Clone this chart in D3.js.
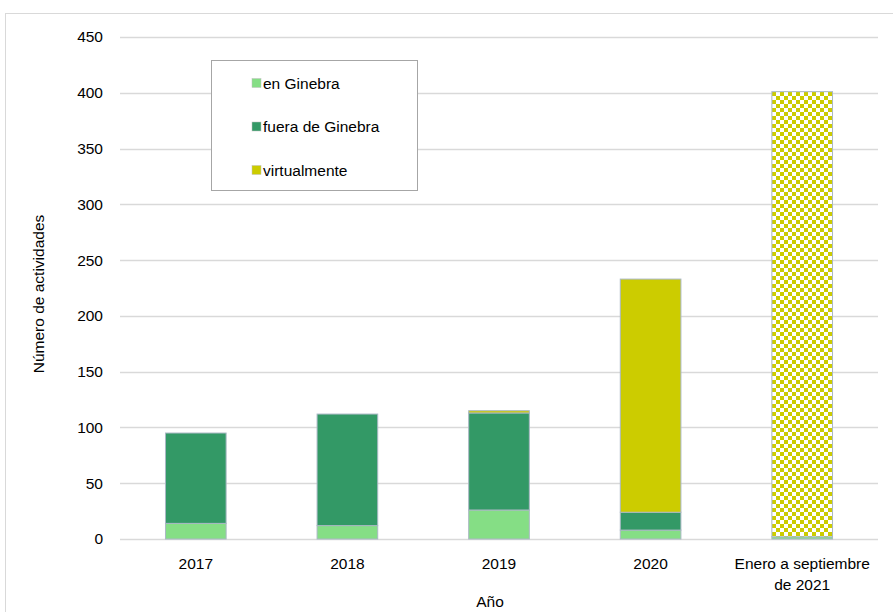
<!DOCTYPE html>
<html>
<head>
<meta charset="utf-8">
<script src="https://cdn.jsdelivr.net/npm/d3@7"></script>
<style>
  body { margin: 0; background: #fff; }
  svg { font-family: "Liberation Sans", Arial, sans-serif; }
</style>
</head>
<body>
<svg id="chart" width="893" height="612"></svg>
<script>
// Data
const years = ["2017", "2018", "2019", "2020", "Enero a septiembre|de 2021"];
const enGinebra = [14, 12, 26, 8, 2];
const fueraGinebra = [81, 100, 87, 16, 0];
const virtualmente = [0, 0, 2, 209, 399];
const seriesNames = ["en Ginebra", "fuera de Ginebra", "virtualmente"];
const yTicks = [0, 50, 100, 150, 200, 250, 300, 350, 400, 450];

const colors = ["#85de85", "#339966", "#cccc00"];
const fontSize = 15.5;

const svg = d3.select("#chart");
const margin = {left: 120, right: 15, top: 37, bottom: 73};

// outer frame
svg.append("rect")
    .attr("x", 5.5).attr("y", 13.5)
    .attr("width", 900).attr("height", 620)
    .attr("fill", "none").attr("stroke", "#d9d9d9");

// checker pattern for the 2021 bar
const defs = svg.append("defs");
const pat = defs.append("pattern")
    .attr("id", "checker")
    .attr("patternUnits", "userSpaceOnUse")
    .attr("width", 8).attr("height", 8);
pat.append("rect").attr("width", 8).attr("height", 8).attr("fill", "#fff");
pat.append("rect").attr("width", 4).attr("height", 4).attr("fill", colors[2]);
pat.append("rect").attr("x", 4).attr("y", 4).attr("width", 4).attr("height", 4).attr("fill", colors[2]);

const x = d3.scaleBand()
    .domain(years)
    .range([margin.left, 878])
    .paddingInner(0.6)
    .paddingOuter(0.3);

const y = d3.scaleLinear()
    .domain([0, 450])
    .range([539, 37]);

// grid lines
svg.append("g")
    .selectAll("line")
    .data(yTicks)
    .join("line")
    .attr("x1", margin.left).attr("x2", 878)
    .attr("y1", d => Math.round(y(d)) + 0.5)
    .attr("y2", d => Math.round(y(d)) + 0.5)
    .attr("stroke", "#d9d9d9")
    .attr("stroke-width", 1.5);

// y axis labels
const yAxis = d3.axisLeft(y).tickValues(yTicks).tickSize(0).tickPadding(0);
svg.append("g")
    .attr("transform", "translate(103,0)")
    .call(yAxis)
    .call(g => g.select(".domain").remove())
    .selectAll("text")
    .attr("font-size", fontSize)
    .attr("fill", "#000")
    .attr("font-family", "Liberation Sans, Arial, sans-serif");

// stacked bars
const table = years.map((yr, i) => ({
    year: yr,
    "en Ginebra": enGinebra[i],
    "fuera de Ginebra": fueraGinebra[i],
    "virtualmente": virtualmente[i]
}));
const stack = d3.stack().keys(seriesNames)(table);

stack.forEach((layer, si) => {
    svg.append("g")
        .selectAll("rect")
        .data(layer.filter(d => d[1] - d[0] > 0))
        .join("rect")
        .attr("x", d => x(d.data.year))
        .attr("width", x.bandwidth())
        .attr("y", d => y(d[1]))
        .attr("height", d => y(d[0]) - y(d[1]))
        .attr("fill", d => (si === 2 && d.data.year === years[4]) ? "url(#checker)" : colors[si])
        .attr("stroke", "#aab8c4")
        .attr("stroke-width", 1);
});

// x axis labels
const xLab = svg.append("g")
    .selectAll("text")
    .data(years)
    .join("text")
    .attr("x", d => x(d) + x.bandwidth() / 2)
    .attr("y", 569)
    .attr("text-anchor", "middle")
    .attr("font-size", fontSize)
    .attr("fill", "#000");
xLab.each(function(d) {
    const parts = d.split("|");
    parts.forEach((p, k) => {
        d3.select(this).append("tspan")
            .attr("x", x(d) + x.bandwidth() / 2)
            .attr("dy", k === 0 ? 0 : 21)
            .text(p);
    });
});

// axis titles
svg.append("text")
    .attr("x", 490).attr("y", 607)
    .attr("text-anchor", "middle")
    .attr("font-size", fontSize)
    .text("Año");

svg.append("text")
    .attr("transform", "translate(44,294) rotate(-90)")
    .attr("text-anchor", "middle")
    .attr("font-size", fontSize)
    .text("Número de actividades");

// legend
const legend = svg.append("g");
legend.append("rect")
    .attr("x", 211.5).attr("y", 60.5)
    .attr("width", 206).attr("height", 130)
    .attr("fill", "#fff")
    .attr("stroke", "#a6a6a6");

const legendItem = legend.selectAll("g.item")
    .data(seriesNames)
    .join("g")
    .attr("class", "item")
    .attr("transform", (d, i) => `translate(252,${83 + i * 43.5})`);
legendItem.append("rect")
    .attr("x", 0).attr("y", -4.5)
    .attr("width", 9).attr("height", 9)
    .attr("fill", (d, i) => colors[i])
    .attr("stroke", "#c0c0c0")
    .attr("stroke-width", 0.5);
legendItem.append("text")
    .attr("x", 11).attr("y", 5.5)
    .attr("font-size", fontSize)
    .text(d => d);
</script>
</body>
</html>
